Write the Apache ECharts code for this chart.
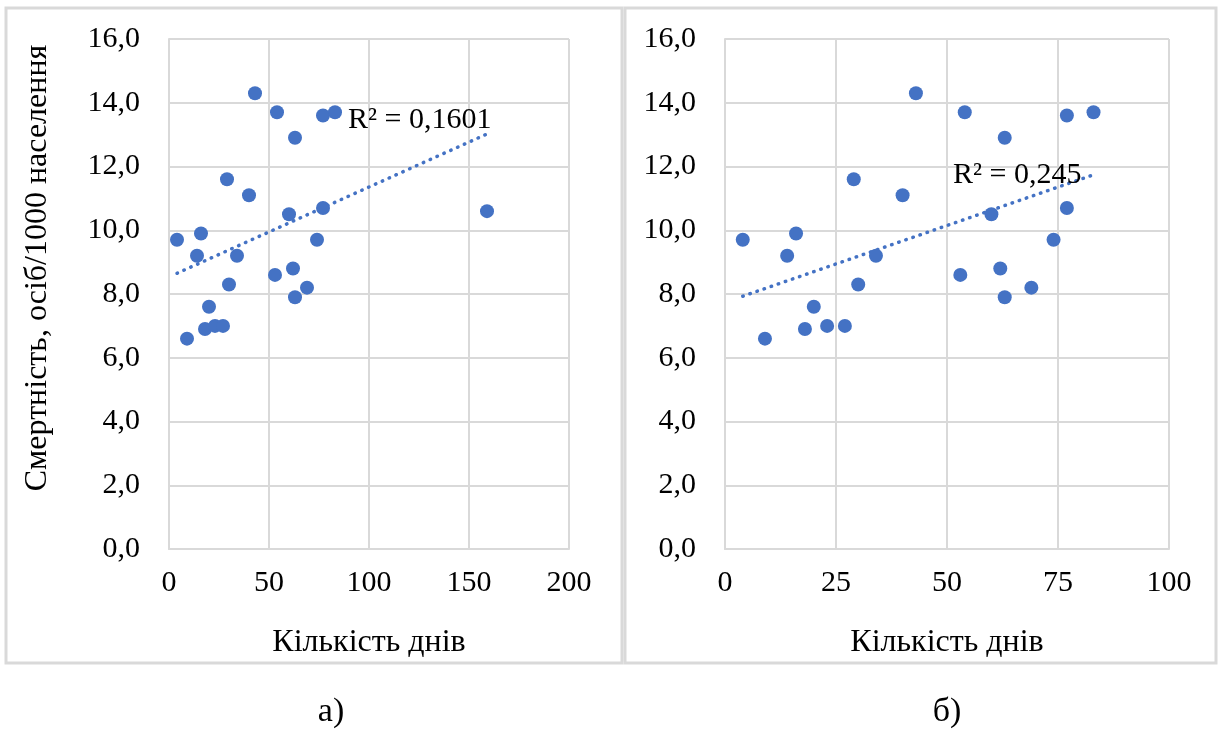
<!DOCTYPE html>
<html>
<head>
<meta charset="utf-8">
<script src="https://cdn.jsdelivr.net/npm/echarts@6/dist/echarts.min.js"></script>
<style>
html,body{margin:0;padding:0;background:#fff;}
#c{width:1222px;height:729px;}
</style>
</head>
<body>
<div id="c"></div>
<script>
// Panel а): all regions
const daysA = [43, 54, 77, 83, 63, 29, 40, 60, 77, 159, 4, 16, 74, 14, 34, 62, 53, 30, 69, 63, 20, 18, 23, 27, 9];
const mortA = [14.3, 13.7, 13.6, 13.7, 12.9, 11.6, 11.1, 10.5, 10.7, 10.6, 9.7, 9.9, 9.7, 9.2, 9.2, 8.8, 8.6, 8.3, 8.2, 7.9, 7.6, 6.9, 7.0, 7.0, 6.6];
// Panel б): without the outlier
const daysB = [43, 54, 77, 83, 63, 29, 40, 60, 77, 4, 16, 74, 14, 34, 62, 53, 30, 69, 63, 20, 18, 23, 27, 9];
const mortB = [14.3, 13.7, 13.6, 13.7, 12.9, 11.6, 11.1, 10.5, 10.7, 9.7, 9.9, 9.7, 9.2, 9.2, 8.8, 8.6, 8.3, 8.2, 7.9, 7.6, 6.9, 7.0, 7.0, 6.6];
// Trendline end points
const trendAx = [4, 159];
const trendAy = [8.65, 13.02];
const trendBx = [4, 83];
const trendBy = [7.93, 11.74];
const r2A = 'R² = 0,1601';
const r2B = 'R² = 0,245';
const xTitle = 'Кількість днів';
const yTitle = 'Смертність, осіб/1000 населення';
const panelLabels = ['а)', 'б)'];

const FONT = "'Liberation Serif', 'Times New Roman', serif";
const BLUE = '#4472C4';
const GRID = '#d9d9d9';

function zip(xs, ys) { return xs.map((x, i) => [x, ys[i]]); }

function xAxis(idx, max, interval) {
  return {
    type: 'value', gridIndex: idx, min: 0, max: max, interval: interval,
    axisLine: { show: true, lineStyle: { color: GRID, width: 2 } },
    axisTick: { show: false },
    splitLine: { show: true, lineStyle: { color: GRID, width: 2 } },
    axisLabel: { color: '#000', fontFamily: FONT, fontSize: 30, margin: 19 },
    name: xTitle, nameLocation: 'middle', nameGap: 78,
    nameTextStyle: { color: '#000', fontFamily: FONT, fontSize: 32 }
  };
}
function yAxis(idx) {
  return {
    type: 'value', gridIndex: idx, min: 0, max: 16, interval: 2,
    axisLine: { show: true, lineStyle: { color: GRID, width: 2 } },
    axisTick: { show: false },
    splitLine: { show: true, lineStyle: { color: GRID, width: 2 } },
    axisLabel: { color: '#000', fontFamily: FONT, fontSize: 30, margin: 29,
      formatter: v => v.toFixed(1).replace('.', ',') }
  };
}

const chart = echarts.init(document.getElementById('c'), null, { renderer: 'canvas' });
chart.setOption({
  animation: false,
  backgroundColor: '#fff',
  grid: [
    { left: 169, top: 39, width: 400, height: 510 },
    { left: 725, top: 39, width: 444, height: 510 }
  ],
  xAxis: [xAxis(0, 200, 50), xAxis(1, 100, 25)],
  yAxis: [yAxis(0), yAxis(1)],
  series: [
    { type: 'scatter', xAxisIndex: 0, yAxisIndex: 0, data: zip(daysA, mortA),
      symbolSize: 14, itemStyle: { color: BLUE, opacity: 1 }, z: 3 },
    { type: 'line', xAxisIndex: 0, yAxisIndex: 0, data: zip(trendAx, trendAy),
      symbol: 'none', lineStyle: { color: BLUE, width: 3.5, type: [0.5, 7], cap: 'round' }, z: 2 },
    { type: 'scatter', xAxisIndex: 1, yAxisIndex: 1, data: zip(daysB, mortB),
      symbolSize: 14, itemStyle: { color: BLUE, opacity: 1 }, z: 3 },
    { type: 'line', xAxisIndex: 1, yAxisIndex: 1, data: zip(trendBx, trendBy),
      symbol: 'none', lineStyle: { color: BLUE, width: 3.5, type: [0.5, 7], cap: 'round' }, z: 2 }
  ],
  graphic: [
    { type: 'rect', shape: { x: 6, y: 8, width: 616, height: 655 },
      style: { fill: 'none', stroke: GRID, lineWidth: 3 }, silent: true },
    { type: 'rect', shape: { x: 625, y: 8, width: 591, height: 655 },
      style: { fill: 'none', stroke: GRID, lineWidth: 3 }, silent: true },
    { type: 'text', x: 38, y: 268, rotation: Math.PI / 2,
      style: { text: yTitle, fill: '#000', font: '32px ' + FONT, align: 'center', verticalAlign: 'middle' } },
    { type: 'text', x: 348, y: 120, z: 10,
      style: { text: r2A, fill: '#000', font: '30px ' + FONT, align: 'left', verticalAlign: 'middle' } },
    { type: 'text', x: 953, y: 175, z: 10,
      style: { text: r2B, fill: '#000', font: '30px ' + FONT, align: 'left', verticalAlign: 'middle' } },
    { type: 'text', x: 331, y: 712,
      style: { text: panelLabels[0], fill: '#000', font: '34px ' + FONT, align: 'center', verticalAlign: 'middle' } },
    { type: 'text', x: 947, y: 712,
      style: { text: panelLabels[1], fill: '#000', font: '34px ' + FONT, align: 'center', verticalAlign: 'middle' } }
  ]
});
</script>
</body>
</html>
